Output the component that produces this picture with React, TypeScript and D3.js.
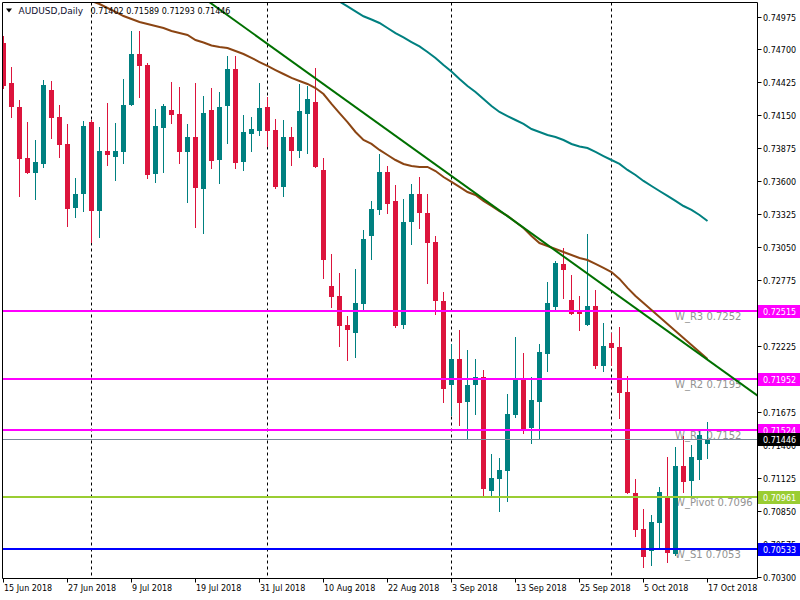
import React, { useEffect, useRef } from "react";
import * as d3 from "d3";

const symbolTitle = "AUDUSD,Daily";
const lastQuote = [0.71402, 0.71589, 0.71293, 0.71446];

// daily bars, 15 Jun 2018 .. 17 Oct 2018 (weekdays)
const opens = [
  0.74754, 0.7442, 0.7422, 0.73794, 0.73671, 0.73746, 0.74361, 0.74136, 0.73911, 0.73379,
  0.73496, 0.74094, 0.73354, 0.73852, 0.73805, 0.73846, 0.74239, 0.74662, 0.7457, 0.73663,
  0.74047, 0.74194, 0.74161, 0.73846, 0.73969, 0.73537, 0.74194, 0.7378, 0.7423, 0.74537,
  0.73763, 0.73997, 0.74019, 0.7422, 0.74028, 0.73552, 0.73969, 0.73855, 0.74164, 0.74261,
  0.73694, 0.72725, 0.72642, 0.724, 0.72335, 0.72577, 0.73145, 0.73362, 0.73677, 0.73435,
  0.72402, 0.73262, 0.73493, 0.73335, 0.73092, 0.726, 0.71901, 0.72116, 0.71759, 0.71901,
  0.71966, 0.71016, 0.71117, 0.71183, 0.71651, 0.71949, 0.71542, 0.71759, 0.7216, 0.72552,
  0.72909, 0.72608, 0.72525, 0.72402, 0.72558, 0.7206, 0.72249, 0.72216, 0.7184, 0.71,
  0.70697, 0.70516, 0.70749, 0.70972, 0.7049, 0.71225, 0.71097, 0.71273, 0.71402,
];
const highs = [
  0.74812, 0.74553, 0.74278, 0.74094, 0.73944, 0.74445, 0.74437, 0.74236, 0.74078, 0.73627,
  0.74103, 0.74111, 0.74053, 0.74253, 0.74086, 0.74453, 0.74854, 0.74854, 0.74587, 0.74203,
  0.74245, 0.74428, 0.74386, 0.74078, 0.7442, 0.74311, 0.74378, 0.74345, 0.74645, 0.74645,
  0.74153, 0.74136, 0.74422, 0.74303, 0.74119, 0.74111, 0.74053, 0.74411, 0.74395, 0.74545,
  0.73794, 0.72992, 0.72834, 0.72475, 0.72867, 0.73193, 0.73435, 0.73827, 0.73727, 0.73568,
  0.73451, 0.73577, 0.73635, 0.73493, 0.73143, 0.72675, 0.72241, 0.72358, 0.72191, 0.72116,
  0.72024, 0.71323, 0.71289, 0.71824, 0.72299, 0.72166, 0.71966, 0.72241, 0.72759, 0.72934,
  0.73042, 0.72817, 0.72642, 0.73159, 0.72692, 0.72416, 0.72333, 0.72385, 0.71974, 0.71117,
  0.70864, 0.70813, 0.71047, 0.713, 0.71384, 0.71476, 0.714, 0.71534, 0.71589,
];
const lows = [
  0.74378, 0.74139, 0.73479, 0.73669, 0.73454, 0.73721, 0.73963, 0.73805, 0.73229, 0.73304,
  0.73354, 0.7309, 0.73137, 0.73738, 0.73613, 0.73755, 0.74235, 0.74305, 0.73629, 0.73596,
  0.73679, 0.74088, 0.73755, 0.73429, 0.7322, 0.7317, 0.73713, 0.73588, 0.73921, 0.73713,
  0.73696, 0.73855, 0.73986, 0.73894, 0.73546, 0.73479, 0.73738, 0.73805, 0.73838, 0.73718,
  0.72795, 0.72552, 0.72227, 0.72107, 0.72135, 0.72525, 0.72953, 0.73329, 0.73337, 0.72385,
  0.72377, 0.73078, 0.73212, 0.72753, 0.72494, 0.71759, 0.71648, 0.71567, 0.71448, 0.71659,
  0.70983, 0.70983, 0.70849, 0.70933, 0.71634, 0.71501, 0.71417, 0.7145, 0.72018, 0.72536,
  0.72627, 0.7249, 0.7236, 0.72398, 0.72043, 0.72018, 0.72068, 0.71621, 0.70995, 0.70641,
  0.70382, 0.70396, 0.70532, 0.70424, 0.7048, 0.71008, 0.70975, 0.71117, 0.71293,
];
const closes = [
  0.74395, 0.74222, 0.73788, 0.73671, 0.7376, 0.74403, 0.7413, 0.73905, 0.7337, 0.73493,
  0.74061, 0.73354, 0.73852, 0.73821, 0.73852, 0.74236, 0.74662, 0.74564, 0.73654, 0.74061,
  0.74228, 0.74155, 0.73846, 0.73969, 0.73546, 0.74169, 0.73771, 0.7422, 0.74537, 0.73755,
  0.74011, 0.74036, 0.74211, 0.74019, 0.73552, 0.73969, 0.73855, 0.74186, 0.74286, 0.73721,
  0.72945, 0.72636, 0.72394, 0.7236, 0.72583, 0.73118, 0.73368, 0.73677, 0.73412, 0.72394,
  0.73259, 0.73493, 0.73337, 0.73087, 0.72602, 0.71868, 0.72116, 0.71751, 0.71899, 0.71966,
  0.71033, 0.71122, 0.71189, 0.71657, 0.7194, 0.71517, 0.71774, 0.72174, 0.72583, 0.72917,
  0.72861, 0.72494, 0.72494, 0.72558, 0.7206, 0.72224, 0.7221, 0.71834, 0.71, 0.70691,
  0.70465, 0.70755, 0.71006, 0.70499, 0.71225, 0.71089, 0.713, 0.71484, 0.71446,
];

// moving averages (values per bar, starting at the given bar index)
const brownStart = 10;
const maBrown = [
  0.75135,
  0.75104, 0.75079, 0.75046, 0.75013, 0.74979, 0.74954, 0.74929, 0.74912, 0.74896, 0.74879,
  0.74854, 0.74837, 0.74821, 0.74779, 0.74758, 0.74733, 0.7472, 0.74712, 0.74687, 0.74662,
  0.74629, 0.74595, 0.74562, 0.74528, 0.74495, 0.74462, 0.74437, 0.74412, 0.74378, 0.74328,
  0.74245, 0.74169, 0.74094, 0.74011, 0.73944, 0.73911, 0.73861, 0.73819, 0.73777, 0.73744,
  0.73727, 0.73719, 0.73719, 0.73685, 0.73635, 0.73594, 0.73552, 0.7351, 0.73485, 0.73435,
  0.73393, 0.73351, 0.7331, 0.7326, 0.7321, 0.73143, 0.73084, 0.73059, 0.73034, 0.73009,
  0.72984, 0.72959, 0.72942, 0.72909, 0.72876, 0.72842, 0.72784, 0.72709, 0.72642, 0.72583,
  0.72525, 0.72467, 0.72408, 0.7235, 0.72291, 0.72233, 0.72175, 0.72116,
];
const tealStart = 41;
const maTeal = [
  0.7514,
  0.751, 0.75059, 0.75018, 0.74977, 0.7495, 0.74921, 0.74879, 0.74837,
  0.748, 0.74762, 0.74725, 0.74679, 0.74629, 0.7457, 0.74516, 0.74453, 0.74395, 0.74345,
  0.74286, 0.74228, 0.74178, 0.74144, 0.74111, 0.74078, 0.74036, 0.74011, 0.73986, 0.73969,
  0.73944, 0.73911, 0.7389, 0.73877, 0.73844, 0.7381, 0.73777, 0.73744, 0.73694, 0.73652,
  0.73602, 0.7356, 0.73518, 0.73477, 0.73435, 0.73393, 0.7336, 0.73318, 0.73268,
];

// trend line (ray to the right)
const trendBars = [25, 88];
const trendPrices = [0.7513, 0.72109];

const yTicks = [
  0.74975, 0.747, 0.74425, 0.7415, 0.73875, 0.736, 0.73325, 0.7305, 0.72775,
  0.725, 0.72225, 0.7195, 0.71675, 0.714, 0.71125, 0.7085, 0.70575, 0.703,
];

const pivotNames = ["W_R3", "W_R2", "W_R1", "W_Pivot", "W_S1"];
const pivotValues = [0.725152, 0.71952, 0.71524, 0.70961, 0.70533];
const pivotColors = ["#ff00ff", "#ff00ff", "#ff00ff", "#9acd32", "#0000ff"];
const bidPrice = 0.71446;

const BULL = "#008080";
const BEAR = "#dc143c";
const FONT = "'DejaVu Sans', sans-serif";

const App: React.FC = () => {
  const svgRef = useRef<SVGSVGElement | null>(null);

  useEffect(() => {
    if (!svgRef.current) return;
    const svg = d3.select(svgRef.current);
    svg.selectAll("*").remove();

    const left = 2.5, right = 757.5, top = 2.5, bottom = 578.5;

    const dates = d3
      .utcDay.range(new Date(Date.UTC(2018, 5, 15)), new Date(Date.UTC(2018, 9, 18)))
      .filter((d) => d.getUTCDay() !== 0 && d.getUTCDay() !== 6);
    const n = dates.length;

    const x = d3.scaleLinear().domain([0, n - 1]).range([3.5, 3.5 + 8 * (n - 1)]);
    const y = d3.scaleLinear().domain([0.703, 0.74975]).range([576.5, 16.5]);

    svg.append("rect").attr("width", 800).attr("height", 600).attr("fill", "#fff");

    svg.append("defs").append("clipPath").attr("id", "plot")
      .append("rect").attr("x", left + 0.5).attr("y", top + 0.5)
      .attr("width", right - left - 1).attr("height", bottom - top - 1);

    const plot = svg.append("g").attr("clip-path", "url(#plot)");

    // month separators
    const seps = dates
      .map((d, i) => ({ d, i }))
      .filter(({ d, i }) => i > 0 && d.getUTCMonth() !== dates[i - 1].getUTCMonth());
    plot.selectAll(".sep").data(seps).enter().append("line")
      .attr("x1", (s) => x(s.i)).attr("x2", (s) => x(s.i))
      .attr("y1", top).attr("y2", bottom)
      .attr("stroke", "#000").attr("stroke-dasharray", "3,3");

    // pivot captions (under candles)
    plot.selectAll(".pcap").data(pivotValues).enter().append("text")
      .attr("x", 675).attr("y", (v) => Math.round(y(v)) + 9)
      .attr("font-family", FONT).attr("font-size", 10).attr("fill", "#939393")
      .text((v, i) => `${pivotNames[i]} ${v.toFixed(4)}`);

    // candles
    const bars = d3.range(n);
    const candle = plot.selectAll(".c").data(bars).enter().append("g");
    candle.append("line")
      .attr("x1", (i) => x(i)).attr("x2", (i) => x(i))
      .attr("y1", (i) => Math.round(y(highs[i]))).attr("y2", (i) => Math.round(y(lows[i])) + 1)
      .attr("stroke", (i) => (closes[i] >= opens[i] ? BULL : BEAR)).attr("stroke-width", 1);
    candle.append("rect")
      .attr("x", (i) => x(i) - 2.5)
      .attr("y", (i) => Math.round(y(Math.max(opens[i], closes[i]))))
      .attr("width", 5)
      .attr("height", (i) =>
        Math.max(1, Math.round(y(Math.min(opens[i], closes[i]))) - Math.round(y(Math.max(opens[i], closes[i])))))
      .attr("fill", (i) => (closes[i] >= opens[i] ? BULL : BEAR));

    // horizontal levels
    plot.selectAll(".lvl").data(pivotValues).enter().append("line")
      .attr("x1", left).attr("x2", right)
      .attr("y1", (v) => Math.round(y(v))).attr("y2", (v) => Math.round(y(v)))
      .attr("stroke", (v, i) => pivotColors[i]).attr("stroke-width", 2);
    plot.append("line")
      .attr("x1", left).attr("x2", right)
      .attr("y1", Math.round(y(bidPrice)) + 0.5).attr("y2", Math.round(y(bidPrice)) + 0.5)
      .attr("stroke", "#778899").attr("stroke-width", 1);

    // moving averages
    plot.append("path")
      .datum(maTeal)
      .attr("d", d3.line<number>().x((d, i) => x(i + tealStart)).y((d) => y(d)))
      .attr("fill", "none").attr("stroke", "#008080").attr("stroke-width", 2);
    plot.append("path")
      .datum(maBrown)
      .attr("d", d3.line<number>().x((d, i) => x(i + brownStart)).y((d) => y(d)))
      .attr("fill", "none").attr("stroke", "#8b4513").attr("stroke-width", 2);

    // trend line as a ray
    const tx0 = x(trendBars[0]), ty0 = y(trendPrices[0]);
    const tx1 = x(trendBars[1]), ty1 = y(trendPrices[1]);
    const slope = (ty1 - ty0) / (tx1 - tx0);
    plot.append("line")
      .attr("x1", tx0).attr("y1", ty0)
      .attr("x2", right + 5).attr("y2", ty0 + slope * (right + 5 - tx0))
      .attr("stroke", "#007000").attr("stroke-width", 2);

    // frame
    svg.append("path")
      .attr("d", `M${left},${top}H${right}V${bottom}H${left}Z`)
      .attr("fill", "none").attr("stroke", "#000").attr("stroke-width", 1);

    // price axis
    const yAxis = svg.append("g");
    yAxis.selectAll("line").data(yTicks).enter().append("line")
      .attr("x1", right).attr("x2", right + 4)
      .attr("y1", (t) => Math.round(y(t)) + 0.5).attr("y2", (t) => Math.round(y(t)) + 0.5)
      .attr("stroke", "#000");
    yAxis.selectAll("text").data(yTicks).enter().append("text")
      .attr("x", 763).attr("y", (t) => Math.round(y(t)) + 3.5)
      .attr("font-family", FONT).attr("font-size", 8).attr("fill", "#000")
      .text((t) => t.toFixed(5));

    // time axis
    const tickIdx = bars.filter((i) => i % 8 === 0);
    const fmt = d3.utcFormat("%-d %b %Y");
    const xAxis = svg.append("g");
    xAxis.selectAll("line").data(tickIdx).enter().append("line")
      .attr("x1", (i) => Math.floor(x(i)) + 0.5).attr("x2", (i) => Math.floor(x(i)) + 0.5)
      .attr("y1", bottom).attr("y2", bottom + 4)
      .attr("stroke", "#000");
    xAxis.selectAll("text").data(tickIdx).enter().append("text")
      .attr("x", (i) => x(i) + 0.5).attr("y", 591)
      .attr("font-family", FONT).attr("font-size", 8).attr("fill", "#000")
      .text((i) => fmt(dates[i]));

    // price tags
    const tags = pivotValues.map((v, i) => ({ v, c: pivotColors[i] }))
      .concat([{ v: bidPrice, c: "#000" }]);
    const tag = svg.selectAll(".tag").data(tags).enter().append("g");
    tag.append("rect")
      .attr("x", 758).attr("y", (t) => Math.round(y(t.v)) - 6)
      .attr("width", 42).attr("height", 13)
      .attr("fill", (t) => t.c);
    tag.append("text")
      .attr("x", 763).attr("y", (t) => Math.round(y(t.v)) + 4)
      .attr("font-family", FONT).attr("font-size", 8).attr("fill", "#fff")
      .text((t) => t.v.toFixed(5));

    // title
    svg.append("path").attr("d", "M6,8.5H12L9,12.5Z").attr("fill", "#000");
    svg.append("text")
      .attr("x", 18.5).attr("y", 14)
      .attr("font-family", FONT).attr("font-size", 9).attr("fill", "#101030")
      .text(symbolTitle);
    svg.append("text")
      .attr("x", 90.5).attr("y", 14)
      .attr("font-family", FONT).attr("font-size", 8).attr("fill", "#000")
      .text(lastQuote.map((q) => q.toFixed(5)).join(" "));
  }, []);

  return (
    <div style={{ position: "absolute", left: 0, top: 0 }}>
      <svg ref={svgRef} width={800} height={600} style={{ display: "block" }}></svg>
    </div>
  );
};

export default App;
